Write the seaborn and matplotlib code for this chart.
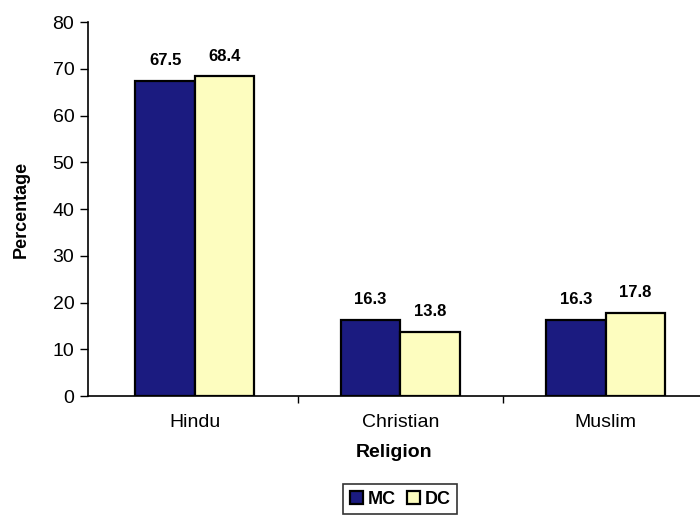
import matplotlib
matplotlib.use("Agg")
import matplotlib.pyplot as plt
import seaborn as sns
import pandas as pd
from matplotlib.ticker import FixedLocator

religions = ["Hindu", "Christian", "Muslim"]
mc_values = [67.5, 16.3, 16.3]
dc_values = [68.4, 13.8, 17.8]
groups = ["MC", "DC"]
y_ticks = [0, 10, 20, 30, 40, 50, 60, 70, 80]

df = pd.DataFrame({
    "Religion": religions * 2,
    "Group": ["MC"] * 3 + ["DC"] * 3,
    "Percentage": mc_values + dc_values,
})

sns.set_style("white")
plt.rcParams['font.family'] = ['Liberation Sans', 'DejaVu Sans']
plt.rcParams['text.color'] = 'black'
plt.rcParams['axes.labelcolor'] = 'black'
plt.rcParams['xtick.color'] = 'black'
plt.rcParams['ytick.color'] = 'black'

fig = plt.figure(figsize=(7.0, 5.17), dpi=100)
ax = fig.add_axes([0.126, 0.234, 0.874, 0.723])

palette = {"MC": "#1b1b80", "DC": "#fdfdbf"}
sns.barplot(data=df, x="Religion", y="Percentage", hue="Group", hue_order=groups,
            order=religions, palette=palette, saturation=1, width=0.58,
            edgecolor="black", linewidth=1.6, ax=ax, legend=True)

for cont in ax.containers:
    ax.bar_label(cont, fmt="%.1f", padding=9, fontsize=12, fontweight="bold",
                 color="black")

ax.set_ylim(0, 80)
ax.set_xlim(-0.52, 2.46)
ax.set_yticks(y_ticks)
ax.tick_params(axis="y", labelsize=14, length=6, width=1, direction="out", left=True, pad=4)
ax.tick_params(axis="x", labelsize=14, length=0, pad=13)
ax.xaxis.set_minor_locator(FixedLocator([0.5, 1.5]))
ax.tick_params(axis="x", which="minor", length=5, width=1, direction="out", bottom=True)

ax.set_xlabel("Religion", fontsize=14, fontweight="bold", labelpad=9)
ax.set_ylabel("Percentage", fontsize=13, fontweight="bold", labelpad=16)

for s in ["top", "right"]:
    ax.spines[s].set_visible(False)
for s in ["left", "bottom"]:
    ax.spines[s].set_color("black")
    ax.spines[s].set_linewidth(1.2)

leg = ax.legend(loc="upper center", bbox_to_anchor=(0.51, -0.236), ncol=2,
                frameon=True, fancybox=False, edgecolor="black", fontsize=13,
                handlelength=0.75, handleheight=0.75, handletextpad=0.25,
                columnspacing=0.6, borderpad=0.35, borderaxespad=0)
leg.get_frame().set_linewidth(1.2)
for t in leg.get_texts():
    t.set_fontweight("bold")

fig.savefig("out.png", dpi=100, facecolor="white")
